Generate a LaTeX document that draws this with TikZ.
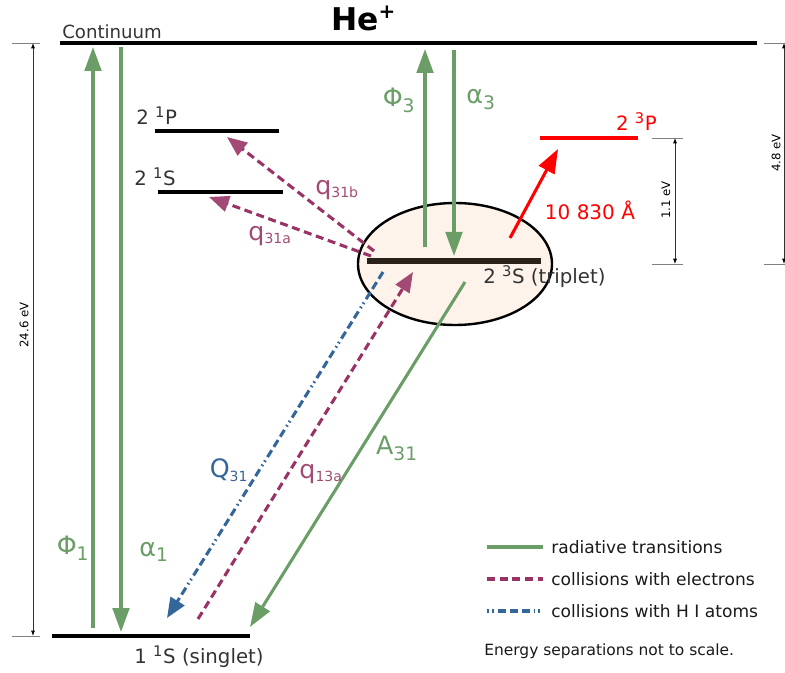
\documentclass[tikz,border=0pt]{standalone}
\usepackage{fontspec}
\setmainfont{DejaVu Sans}
\usetikzlibrary{arrows.meta}
\definecolor{rgreen}{HTML}{6A9E66}
\definecolor{maroon}{HTML}{993366}
\definecolor{mhead}{HTML}{A34A74}
\definecolor{hblue}{HTML}{336699}
\definecolor{lvl}{HTML}{333333}
\definecolor{peach}{HTML}{FDF3EA}
\definecolor{tdark}{HTML}{2A2119}
\tikzset{
  level/.style={line width=2.4pt, black},
  lab/.style={inner sep=0pt, text=lvl, font=\fontsize{14.8pt}{16pt}\selectfont},
  rad/.style={rgreen, line width=2.3pt, -{Triangle[length=18pt,width=12.5pt]}},
  radplain/.style={rgreen, line width=2.3pt},
  coll/.style={maroon, line width=2.3pt, dash pattern=on 6pt off 3.5pt, -{Triangle[length=15pt,width=12pt,fill=mhead,color=mhead]}},
  hcoll/.style={hblue, line width=2.3pt, dash pattern=on 6pt off 3pt on 6pt off 3pt on 6pt off 3pt on 1.2pt off 2.5pt on 1.2pt off 3pt, -{Triangle[length=15pt,width=12pt]}},
  dim/.style={gray, line width=0.6pt},
  dimarr/.style={black!80, line width=0.6pt, {Latex[length=4pt,width=3pt,black]}-{Latex[length=4pt,width=3pt,black]}},
  dimtxt/.style={inner sep=0pt, font=\fontsize{8.8pt}{9pt}\selectfont, rotate=90},
  gl/.style={inner sep=0pt, text=rgreen, font=\fontsize{19pt}{21pt}\selectfont},
  ml/.style={inner sep=0pt, text=mhead, font=\fontsize{19pt}{21pt}\selectfont},
  bl/.style={inner sep=0pt, text=hblue, font=\fontsize{19pt}{21pt}\selectfont},
  legtxt/.style={inner sep=0pt, anchor=west, text=black!90, font=\fontsize{12.8pt}{14pt}\selectfont},
}
\newcommand{\sbs}[1]{\textsubscript{\fontsize{14pt}{14pt}\selectfont #1}}
\newcommand{\sbsm}[1]{\textsubscript{\fontsize{10.5pt}{10pt}\selectfont #1}}
\newcommand{\sps}[1]{\textsuperscript{\fontsize{11pt}{11pt}\selectfont #1}}
\begin{document}
\begin{tikzpicture}[x=0.75pt,y=-0.75pt]
\useasboundingbox (0,0) rectangle (785,673);
% ellipse
\draw[line width=1.8pt, fill=peach] (455,264) ellipse [x radius=97, y radius=61];
% levels
\coordinate (c1) at (60,43); \coordinate (c2) at (757,43);
\draw[level] (c1) -- (c2);
\node[lab, anchor=south west, font=\fontsize{13.6pt}{15pt}\selectfont] (cont) at (62,39.5) {Continuum};
\node[inner sep=0pt, anchor=base west, font=\bfseries\fontsize{23.5pt}{25pt}\selectfont] (he) at (331,31) {He\textsuperscript{\fontsize{15pt}{15pt}\selectfont +}};
\coordinate (g1) at (52,636); \coordinate (g2) at (250,636);
\draw[level] (g1) -- (g2);
\node[lab] (glab) at (199,657) {1 \sps{1}S (singlet)};
\coordinate (p1) at (155,131); \coordinate (p2) at (279,131);
\draw[level] (p1) -- (p2);
\node[lab, anchor=west] (plab) at (136,116) {2 \sps{1}P};
\coordinate (s1) at (158,192); \coordinate (s2) at (283,192);
\draw[level] (s1) -- (s2);
\node[lab, anchor=west] (slab) at (134,177) {2 \sps{1}S};
\coordinate (t1) at (367,261); \coordinate (t2) at (541,261);
\draw[line width=4.5pt, tdark] (t1) -- (t2);
\node[lab, anchor=west] (tlab) at (483,277) {2 \sps{3}S (triplet)};
\coordinate (r1) at (540,138); \coordinate (r2) at (638,138);
\draw[line width=2.4pt, red] (r1) -- (r2);
\node[lab, anchor=east, text=red] (rlab) at (657,122) {2 \sps{3}P};
% dimensions
\coordinate (d1a) at (12,43); \coordinate (d1b) at (40,43);
\coordinate (d2a) at (12,636); \coordinate (d2b) at (40,636);
\draw[dim] (d1a) -- (d1b); \draw[dim] (d2a) -- (d2b);
\coordinate (v1) at (33,43); \coordinate (v2) at (33,636);
\draw[dimarr] (v1) -- (v2);
\node[dimtxt] (e246) at (24,325) {24.6 eV};
\coordinate (d3a) at (652,138); \coordinate (d3b) at (683,138);
\coordinate (d4a) at (652,264); \coordinate (d4b) at (683,264);
\draw[dim] (d3a) -- (d3b); \draw[dim] (d4a) -- (d4b);
\coordinate (v3) at (675,138); \coordinate (v4) at (675,264);
\draw[dimarr] (v3) -- (v4);
\node[dimtxt] (e11) at (666,200) {1.1 eV};
\coordinate (d5a) at (764,43); \coordinate (d5b) at (790,43);
\coordinate (d6a) at (764,264); \coordinate (d6b) at (790,264);
\draw[dim] (d5a) -- (d5b); \draw[dim] (d6a) -- (d6b);
\coordinate (v5) at (784,43); \coordinate (v6) at (784,264);
\draw[dimarr] (v5) -- (v6);
\node[dimtxt] (e48) at (776,153) {4.8 eV};
% radiative transitions
\coordinate (phi1a) at (93,628); \coordinate (phi1b) at (93,47);
\draw[rad] (phi1a) -- (phi1b);
\coordinate (al1a) at (121,47); \coordinate (al1b) at (121,632);
\draw[rad] (al1a) -- (al1b);
\coordinate (phi3a) at (425,247); \coordinate (phi3b) at (425,49);
\draw[rad] (phi3a) -- (phi3b);
\coordinate (al3a) at (454,50); \coordinate (al3b) at (454,256);
\draw[rad] (al3a) -- (al3b);
\coordinate (A1) at (465,282); \coordinate (A2) at (250,627);
\draw[rad] (A1) -- (A2);
\coordinate (red1) at (510,238); \coordinate (red2) at (558,149);
\draw[red, line width=2.3pt, -{Triangle[length=18pt,width=13pt]}] (red1) -- (red2);
% collisions
\coordinate (qb1) at (374,251); \coordinate (qb2) at (227,137);
\draw[coll] (qb1) -- (qb2);
\coordinate (qa1) at (371,256); \coordinate (qa2) at (209,197);
\draw[coll] (qa1) -- (qa2);
\coordinate (q13a) at (198,619); \coordinate (q13b) at (413,272);
\draw[coll] (q13a) -- (q13b);
\coordinate (Q1) at (383,272); \coordinate (Q2) at (167,618);
\draw[hcoll] (Q1) -- (Q2);
% labels
\node[gl] (Lphi1) at (73,548) {Φ\sbs{1}};
\node[gl] (Lal1) at (154,552) {α\sbs{1}};
\node[gl] (Lphi3) at (399,100) {Φ\sbs{3}};
\node[gl] (Lal3) at (481,100) {α\sbs{3}};
\node[gl] (LA) at (397,448) {A\sbs{31}};
\node[ml] (Lqb) at (337,190) {q\sbsm{31b}};
\node[ml] (Lqa) at (270,236) {q\sbsm{31a}};
\node[ml] (Lq13) at (321,474) {q\sbsm{13a}};
\node[bl] (LQ) at (229,470) {Q\sbsm{31}};
\node[inner sep=0pt, text=red, font=\fontsize{15pt}{17pt}\selectfont] (Lred) at (590,210) {10 830 Å};
% legend
\coordinate (lg1) at (487,547); \coordinate (lg2) at (543,547);
\draw[radplain] (lg1) -- (lg2);
\node[legtxt] (leg1) at (551,547) {radiative transitions};
\coordinate (lm1) at (487,579); \coordinate (lm2) at (543,579);
\draw[maroon, line width=2.3pt, dash pattern=on 6pt off 3.5pt] (lm1) -- (lm2);
\node[legtxt] (leg2) at (551,579) {collisions with electrons};
\coordinate (lb1) at (487,611); \coordinate (lb2) at (543,611);
\draw[hblue, line width=2.3pt, dash pattern=on 1.2pt off 2.5pt on 1.2pt off 3pt on 6pt off 3pt on 6pt off 3pt on 6pt off 3pt] (lb1) -- (lb2);
\node[legtxt] (leg3) at (551,611) {collisions with H I atoms};
\node[legtxt, font=\fontsize{11.6pt}{13pt}\selectfont] (note) at (484,651) {Energy separations not to scale.};
\end{tikzpicture}
\end{document}
